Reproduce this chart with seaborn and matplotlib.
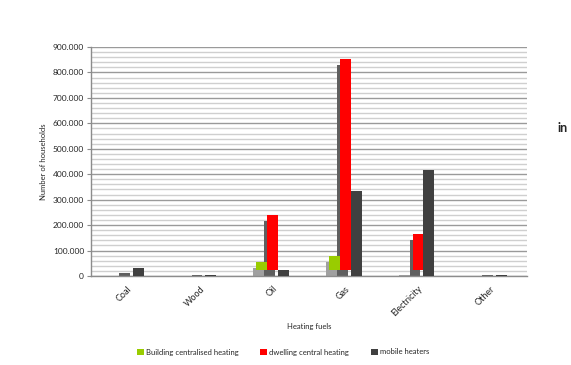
import numpy as np
import pandas as pd
import matplotlib
matplotlib.use("Agg")
import matplotlib.pyplot as plt
from matplotlib.transforms import ScaledTranslation
from matplotlib.ticker import MultipleLocator, FuncFormatter
from matplotlib.patches import Patch
import seaborn as sns

# values
fuels = ["Coal", "Wood", "Oil", "Gas", "Electricity", "Other"]
heating_types = ["Building centralised heating", "dwelling central heating", "mobile heaters"]
building = [0, 0, 56000, 78000, 5000, 0]
dwelling = [13000, 4000, 240000, 853000, 165000, 3000]
mobile = [31000, 4000, 23000, 333000, 417000, 4000]

colors = ["#99cc00", "#ff0000", "#404040"]
shadow_colors = ["#a0a0a0", "#5f5f5f", "#404040"]
lifted = [True, True, False]  # mobile bars run down to the axis, no shadow

df = pd.DataFrame({
    "fuel": fuels * 3,
    "type": np.repeat(heating_types, len(fuels)),
    "households": building + dwelling + mobile,
})

sns.set_style("white")
plt.rcParams["font.family"] = ["Lato", "DejaVu Sans"]

W, H, DPI = 5.71, 3.65, 100
fig = plt.figure(figsize=(W, H), dpi=DPI)
ax = fig.add_axes([91 / 571, 89 / 365, 436 / 571, 229 / 365])

ymax = 900000
ax.set_ylim(0, ymax)

# shadow layer first, then the coloured bars
sns.barplot(data=df, x="fuel", y="households", hue="type", order=fuels,
            hue_order=heating_types, palette=shadow_colors, width=0.45,
            saturation=1, errorbar=None, legend=False, ax=ax, zorder=2)
n_shadow = len(ax.containers)
sns.barplot(data=df, x="fuel", y="households", hue="type", order=fuels,
            hue_order=heating_types, palette=colors, width=0.45,
            saturation=1, errorbar=None, legend=False, ax=ax, zorder=3)

# bars sit on a 6px lift with a gray shadow offset down-left
lift = 6 / 229 * ymax
shift = ScaledTranslation(-3 / DPI, 0, fig.dpi_scale_trans)
for c, up in zip(ax.containers[:n_shadow], lifted):
    for p in c.patches:
        p.set_linewidth(0)
        if not up:
            p.set_visible(False)
            continue
        v = p.get_height()
        p.set_height(v - lift if v > lift else v)
        p.set_transform(ax.transData + shift)
for c, up in zip(ax.containers[n_shadow:], lifted):
    for p in c.patches:
        v = p.get_height()
        p.set_linewidth(0)
        if not up:
            continue
        if v > lift:
            p.set_y(lift)
            p.set_height(v - lift)
        else:
            p.set_visible(False)

ax.set_xlim(-0.5, len(fuels) - 0.5)

# grid: light every 20k, darker every 100k
ax.yaxis.set_major_locator(MultipleLocator(100000))
ax.yaxis.set_minor_locator(MultipleLocator(20000))
ax.grid(which="minor", axis="y", color="#cfcfcf", linewidth=1.0, zorder=0)
ax.grid(which="major", axis="y", color="#9a9a9a", linewidth=1.0, zorder=0)
ax.set_axisbelow(True)
ax.yaxis.set_major_formatter(FuncFormatter(lambda v, _: "0" if v == 0 else f"{int(v):,}".replace(",", ".")))

for side in ["top", "right"]:
    ax.spines[side].set_visible(False)
for side in ["left", "bottom"]:
    ax.spines[side].set_color("#8c8c8c")
    ax.spines[side].set_linewidth(1.0)

ax.tick_params(axis="y", which="major", length=3, color="#8c8c8c", labelsize=6, pad=2, left=True)
ax.tick_params(axis="y", which="minor", length=0)
ax.tick_params(axis="x", length=0, labelsize=6.5, pad=6)
for lbl in ax.get_xticklabels():
    lbl.set_rotation(45)
    lbl.set_ha("right")
    lbl.set_rotation_mode("anchor")

ax.set_ylabel("Number of households", fontsize=5.5, labelpad=4)
ax.set_xlabel("Heating fuels", fontsize=5.5)
ax.xaxis.set_label_coords(0.5, -50 / 229, transform=ax.transAxes)
ax.xaxis.label.set_va("center")

handles = [Patch(facecolor=col, edgecolor="none", label=lab) for col, lab in zip(colors, heating_types)]
fig.legend(handles=handles, loc="center", bbox_to_anchor=(283 / 571, 1 - 352 / 365), ncol=3,
           frameon=False, fontsize=5.5, handlelength=0.9, handleheight=0.9, handletextpad=0.3,
           columnspacing=2.8)

fig.text(558 / 571, 1 - 128 / 365, "in", fontsize=9, fontweight="bold", va="center", ha="left")

fig.savefig("out.png", dpi=DPI)
plt.close(fig)
